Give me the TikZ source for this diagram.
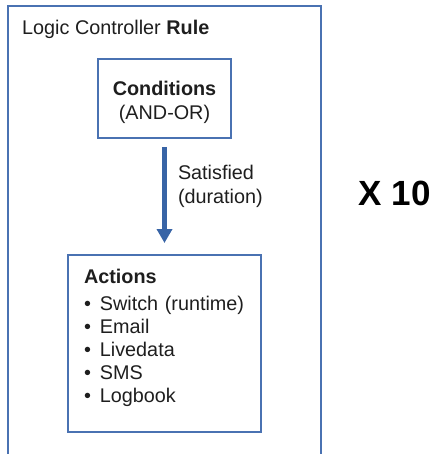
\documentclass[tikz,border=0pt]{standalone}
\usepackage{fontspec}
\setmainfont{Liberation Sans}
\usetikzlibrary{arrows.meta, positioning}
\definecolor{frameblue}{HTML}{4A72B2}
\definecolor{arrowblue}{HTML}{3864A6}
\definecolor{textgray}{HTML}{1E1E1E}

\begin{document}
\begin{tikzpicture}[x=1pt, y=-1pt,
    frame/.style={rectangle, draw=frameblue, line width=2pt, minimum width=313pt, minimum height=468pt},
    box/.style={rectangle, draw=frameblue, line width=2pt, align=center, font=\fontsize{19.8}{23}\selectfont, text=textgray},
    arrow/.style={-{Triangle[width=15pt, length=14pt]}, draw=arrowblue, line width=5pt, shorten <=8pt, shorten >=11pt},
    lbl/.style={font=\fontsize{19.8}{24}\selectfont, text=textgray, align=left, inner sep=0pt},
    node distance=115pt
]
\useasboundingbox (0,0) rectangle (434,454); % keep the page size of the reference

% Outer rule frame (runs off the bottom)
\node[frame] (rule) at (164.5,240) {};
\node[lbl, anchor=west] (title) at (22,29) {Logic Controller \textbf{Rule}};

% Conditions and actions
\node[box, minimum width=133pt, minimum height=79pt] (conditions) at (164.5,98.5) {\rule{0pt}{22pt}\textbf{Conditions}\\[1pt](AND-OR)};
\node[box, below=of conditions, minimum width=193pt, minimum height=177pt, text width=161pt, inner xsep=16pt, align=left] (actions) {%
    \textbf{Actions}\\[4pt]
    \textbullet\hspace{9pt}Switch (runtime)\\
    \textbullet\hspace{9pt}Email\\
    \textbullet\hspace{9pt}Livedata\\
    \textbullet\hspace{9pt}SMS\\
    \textbullet\hspace{9pt}Logbook\rule[-14.5pt]{0pt}{14.5pt}}; % extra depth lifts the list

% Repeat count
\node[font=\fontsize{35}{40}\selectfont\bfseries, inner sep=0pt] (times) at (394.5,193) {X 10};

% Arrow Connections
\draw[arrow] (conditions) -- node[lbl, right, pos=0.41, xshift=11pt] {Satisfied\\(duration)} (actions);

\end{tikzpicture}
\end{document}
